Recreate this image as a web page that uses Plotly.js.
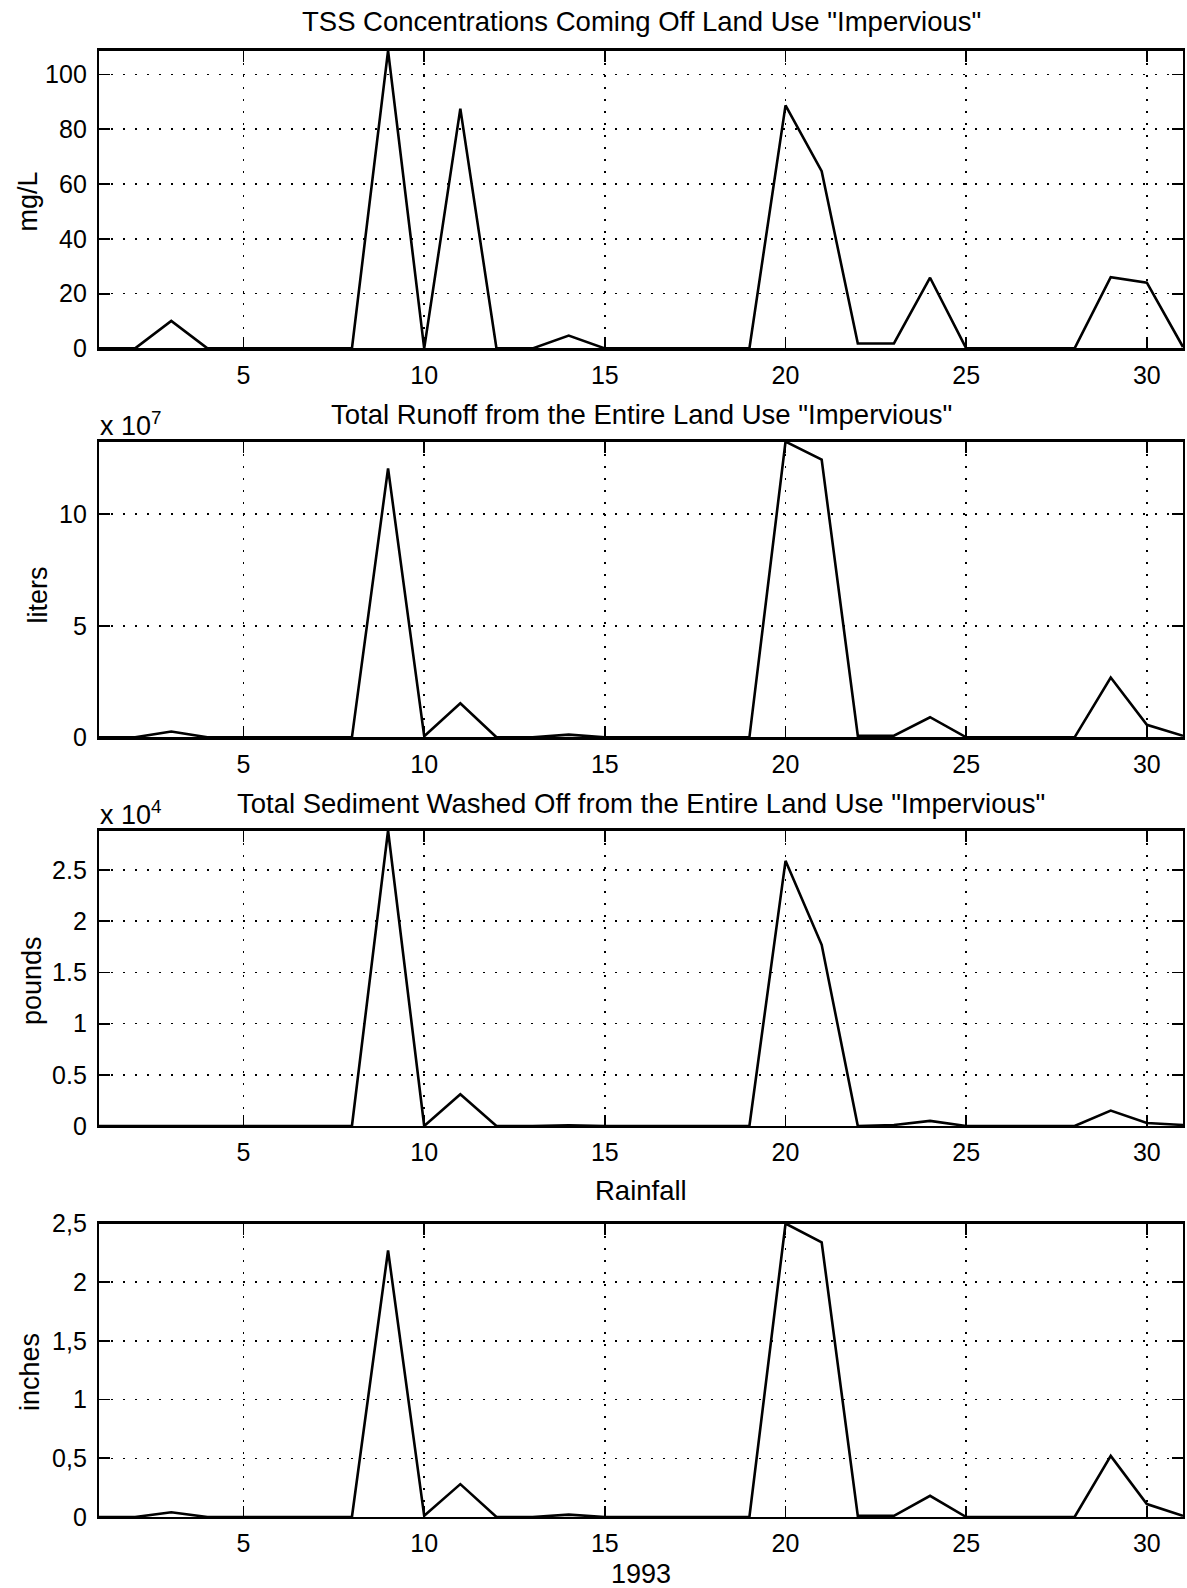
<!DOCTYPE html>
<html>
<head>
<meta charset="utf-8">
<script src="https://cdn.plot.ly/plotly-3.0.1.min.js"></script>
<style>
  html, body { margin: 0; padding: 0; background: #fff; }
  #chart { width: 1187px; height: 1588px; }
</style>
</head>
<body>
<div id="chart"></div>
<script>
// Day of month, 1993
const days = [1,2,3,4,5,6,7,8,9,10,11,12,13,14,15,16,17,18,19,20,21,22,23,24,25,26,27,28,29,30,31];

// TSS concentration (mg/L)
const tss = [0,0,10,0,0,0,0,0,108.7,0,87.5,0,0,4.7,0,0,0,0,0,88.7,64.7,1.8,1.8,25.8,0,0,0,0,26,24,0.5];

// Total runoff (liters)
const runoff = [0,0,0.26e7,0,0,0,0,0,12.06e7,0.05e7,1.53e7,0,0,0.12e7,0,0,0,0,0,13.26e7,12.45e7,0.07e7,0.07e7,0.9e7,0,0,0,0,2.68e7,0.56e7,0.07e7];

// Total sediment washed off (pounds)
const sediment = [0,0,30,0,0,0,0,0,28860,0,3100,0,0,60,0,0,0,0,0,25900,17700,0,100,500,0,0,0,0,1500,300,100];

// Rainfall (inches)
const rainfall = [0,0,0.04,0,0,0,0,0,2.27,0.01,0.28,0,0,0.02,0,0,0,0,0,2.5,2.34,0.01,0.01,0.18,0,0,0,0,0.52,0.11,0.01];

const xTicks = [5,10,15,20,25,30];
const tssTicks = [0,20,40,60,80,100];
const runoffTicks = [0,5e7,10e7];
const runoffTickText = ['0','5','10'];
const sedTicks = [0,5000,10000,15000,20000,25000];
const sedTickText = ['0','0.5','1','1.5','2','2.5'];
const rainTicks = [0,0.5,1,1.5,2,2.5];
const rainTickText = ['0','0,5','1','1,5','2','2,5'];

const titles = [
  'TSS Concentrations Coming Off Land Use "Impervious"',
  'Total Runoff from the Entire Land Use "Impervious"',
  'Total Sediment Washed Off from the Entire Land Use "Impervious"',
  'Rainfall'
];
const yLabels = ['mg/L','liters','pounds','inches'];

const H = 1588, L = 99, R = 4;
const W = 1187 - L - R;
const py = p => 1 - p / H;
const px = p => (p - L) / W;

// panel pixel extents (top, bottom)
const panels = [[50.6, 348.4], [441.6, 737.3], [830.5, 1126], [1223.5, 1517]];

const FONT = 'Liberation Sans, Arial, Helvetica, sans-serif';
const tickFont = {family: FONT, size: 25, color: '#000'};

const series = [tss, runoff, sediment, rainfall];
const yMax = [Math.max(...tss), Math.max(...runoff), Math.max(...sediment), 2.5];

const traces = series.map((s, i) => ({
  x: days, y: s, type: 'scatter', mode: 'lines',
  xaxis: i === 0 ? 'x' : 'x' + (i + 1),
  yaxis: i === 0 ? 'y' : 'y' + (i + 1),
  line: {color: '#000', width: 2.6},
  cliponaxis: false,
  hoverinfo: 'x+y'
}));

function xAxis(i) {
  return {
    domain: [0, 1], range: [1, 31],
    anchor: i === 0 ? 'y' : 'y' + (i + 1),
    tickvals: xTicks, ticks: 'inside', ticklen: 11, tickwidth: 1.8, tickcolor: '#000',
    showline: true, linecolor: '#000', linewidth: 2.2, mirror: 'ticks',
    showgrid: true, gridcolor: '#000', gridwidth: 1.6, griddash: '2px,10px',
    zeroline: false, tickfont: tickFont, ticklabelstandoff: 3
  };
}
function yAxis(i, ticks, text) {
  const a = {
    domain: [py(panels[i][1]), py(panels[i][0])], range: [0, yMax[i]],
    anchor: i === 0 ? 'x' : 'x' + (i + 1),
    tickvals: ticks, ticks: 'inside', ticklen: 11, tickwidth: 1.8, tickcolor: '#000',
    showline: true, linecolor: '#000', linewidth: 2.2, mirror: 'ticks',
    showgrid: true, gridcolor: '#000', gridwidth: 1.6, griddash: '2px,10px',
    zeroline: false, tickfont: tickFont, ticklabelstandoff: 5
  };
  if (text) a.ticktext = text;
  return a;
}

const titleY = [22, 414, 803, 1190];
const labelX = [27, 37.5, 32, 30];
const labelY = [201.5, 595, 981, 1372];

const annotations = [];
titles.forEach((t, i) => annotations.push({
  text: t, xref: 'paper', yref: 'paper', x: 0.5, y: py(titleY[i]),
  xanchor: 'center', yanchor: 'middle', showarrow: false,
  font: {family: FONT, size: 27.5, color: '#000'}
}));
yLabels.forEach((t, i) => annotations.push({
  text: t, xref: 'paper', yref: 'paper', x: px(labelX[i]), y: py(labelY[i]),
  xanchor: 'center', yanchor: 'middle', showarrow: false, textangle: -90,
  font: {family: FONT, size: 27, color: '#000'}
}));
annotations.push({
  text: 'x 10<sup>7</sup>', xref: 'paper', yref: 'paper', x: px(98), y: py(424),
  xanchor: 'left', yanchor: 'middle', showarrow: false,
  font: {family: FONT, size: 27, color: '#000'}
});
annotations.push({
  text: 'x 10<sup>4</sup>', xref: 'paper', yref: 'paper', x: px(98), y: py(813),
  xanchor: 'left', yanchor: 'middle', showarrow: false,
  font: {family: FONT, size: 27, color: '#000'}
});
annotations.push({
  text: '1993', xref: 'paper', yref: 'paper', x: 0.5, y: py(1574),
  xanchor: 'center', yanchor: 'middle', showarrow: false,
  font: {family: FONT, size: 27, color: '#000'}
});

const layout = {
  width: 1187, height: 1588,
  margin: {l: L, r: R, t: 0, b: 0},
  paper_bgcolor: '#fff', plot_bgcolor: '#fff',
  showlegend: false,
  font: {family: FONT, color: '#000'},
  xaxis: xAxis(0), xaxis2: xAxis(1), xaxis3: xAxis(2), xaxis4: xAxis(3),
  yaxis: yAxis(0, tssTicks),
  yaxis2: yAxis(1, runoffTicks, runoffTickText),
  yaxis3: yAxis(2, sedTicks, sedTickText),
  yaxis4: yAxis(3, rainTicks, rainTickText),
  annotations: annotations
};

Plotly.newPlot('chart', traces, layout, {displayModeBar: false, staticPlot: true});
</script>
</body>
</html>
